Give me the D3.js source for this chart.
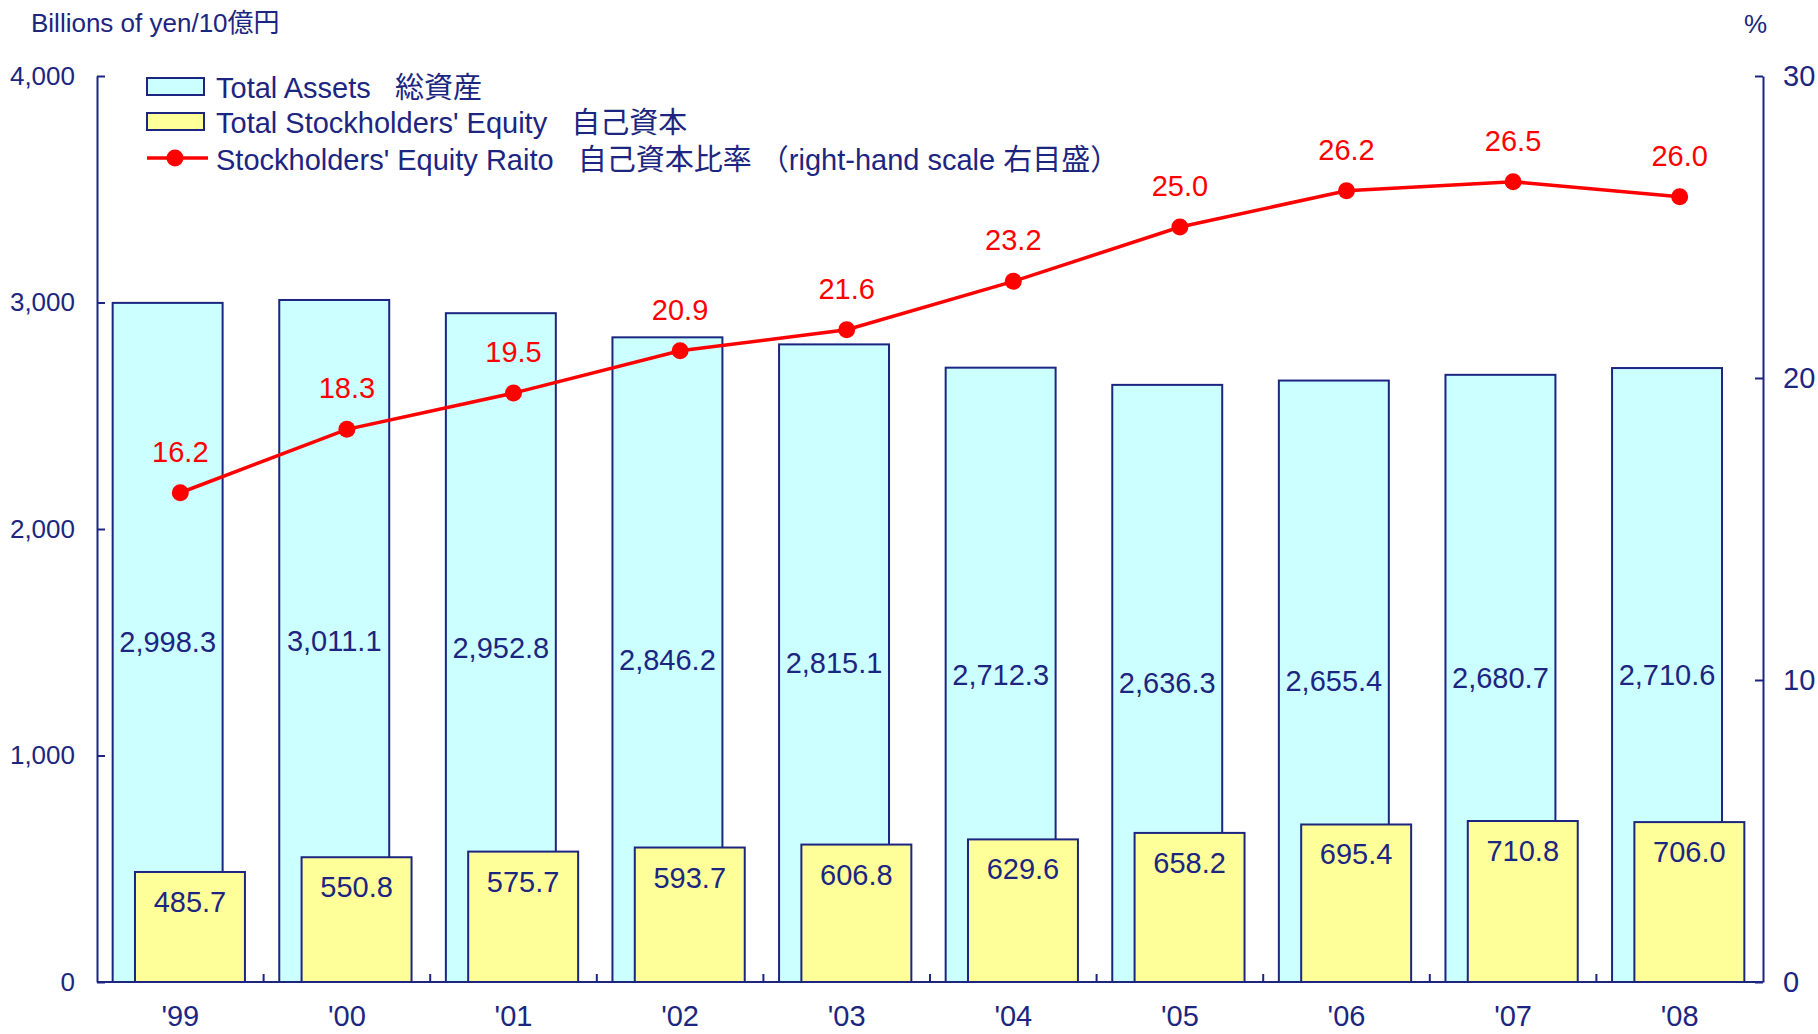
<!DOCTYPE html>
<html>
<head>
<meta charset="utf-8">
<script src="https://cdn.jsdelivr.net/npm/d3@7"></script>
<style>
  body { margin: 0; background: #fff; }
  svg text { font-family: "Liberation Sans", Arial, "Noto Sans CJK JP", sans-serif; }
</style>
</head>
<body>
<div id="chart"></div>
<script>
// data
var years = ["'99", "'00", "'01", "'02", "'03", "'04", "'05", "'06", "'07", "'08"];
var totalAssets = [2998.3, 3011.1, 2952.8, 2846.2, 2815.1, 2712.3, 2636.3, 2655.4, 2680.7, 2710.6];
var equity = [485.7, 550.8, 575.7, 593.7, 606.8, 629.6, 658.2, 695.4, 710.8, 706.0];
var equityRatio = [16.2, 18.3, 19.5, 20.9, 21.6, 23.2, 25.0, 26.2, 26.5, 26.0];
var leftTicks = [0, 1000, 2000, 3000, 4000];
var rightTicks = [0, 10, 20, 30];
var legendLabels = ["Total Assets   総資産", "Total Stockholders' Equity   自己資本", "Stockholders' Equity Raito   自己資本比率 （right-hand scale 右目盛）"];

var navy = "#1c2580", cyan = "#ccffff", yellow = "#ffff99", red = "#ff0000";

var svg = d3.select('#chart').append('svg')
  .attr('width', 1818)
  .attr('height', 1034);

var x = d3.scaleBand().domain(years).range([97, 1763]).padding(0);
var y = d3.scaleLinear().domain([0, 4000]).range([982, 76]);
var y2 = d3.scaleLinear().domain([0, 30]).range([982, 76]);
var bw = x.bandwidth();

// bars - total assets
svg.selectAll('rect.assets')
  .data(years)
  .enter().append('rect')
  .attr('class', 'assets')
  .attr('x', function (d) { return x(d) + bw * 0.094; })
  .attr('y', function (d, i) { return y(totalAssets[i]); })
  .attr('width', bw * 0.66)
  .attr('height', function (d, i) { return y(0) - y(totalAssets[i]); })
  .attr('fill', cyan)
  .attr('stroke', navy)
  .attr('stroke-width', 2);

// bars - equity
svg.selectAll('rect.equity')
  .data(years)
  .enter().append('rect')
  .attr('class', 'equity')
  .attr('x', function (d) { return x(d) + bw * 0.228; })
  .attr('y', function (d, i) { return y(equity[i]); })
  .attr('width', bw * 0.66)
  .attr('height', function (d, i) { return y(0) - y(equity[i]); })
  .attr('fill', yellow)
  .attr('stroke', navy)
  .attr('stroke-width', 2);

// labels on bars
svg.selectAll('text.assetsLbl')
  .data(years)
  .enter().append('text')
  .attr('x', function (d) { return x(d) + bw * 0.094 + bw * 0.33; })
  .attr('y', function (d, i) { return (y(totalAssets[i]) + y(0)) / 2 + 10; })
  .attr('text-anchor', 'middle')
  .attr('font-size', 29)
  .attr('fill', navy)
  .text(function (d, i) { return d3.format(',.1f')(totalAssets[i]); });

svg.selectAll('text.eqLbl')
  .data(years)
  .enter().append('text')
  .attr('x', function (d) { return x(d) + bw * 0.228 + bw * 0.33; })
  .attr('y', function (d, i) { return y(equity[i]) + 40; })
  .attr('text-anchor', 'middle')
  .attr('font-size', 29)
  .attr('fill', navy)
  .text(function (d, i) { return d3.format(',.1f')(equity[i]); });

// axes
var leftAxis = d3.axisLeft(y).tickValues(leftTicks).tickFormat(d3.format(','))
  .tickSizeInner(-8).tickSizeOuter(0).tickPadding(22);
var gl = svg.append('g').attr('transform', 'translate(97,0)').call(leftAxis);

var rightAxis = d3.axisRight(y2).tickValues(rightTicks)
  .tickSizeInner(-8).tickSizeOuter(0).tickPadding(20);
var gr = svg.append('g').attr('transform', 'translate(1763,0)').call(rightAxis);

[gl, gr].forEach(function (g) {
  g.selectAll('path, line').attr('stroke', navy).attr('stroke-width', 2);
  g.selectAll('text').attr('fill', navy).attr('font-size', 26)
    .attr('font-family', '"Liberation Sans", Arial, sans-serif');
});
gr.selectAll('text').attr('font-size', 29);

// bottom axis
svg.append('line')
  .attr('x1', 97).attr('x2', 1763)
  .attr('y1', y(0)).attr('y2', y(0))
  .attr('stroke', navy).attr('stroke-width', 2);

svg.selectAll('line.xtick')
  .data(years.slice(1))
  .enter().append('line')
  .attr('x1', function (d) { return x(d); })
  .attr('x2', function (d) { return x(d); })
  .attr('y1', y(0)).attr('y2', y(0) - 8)
  .attr('stroke', navy).attr('stroke-width', 2);

svg.selectAll('text.xlbl')
  .data(years)
  .enter().append('text')
  .attr('x', function (d) { return x(d) + bw / 2; })
  .attr('y', 1026)
  .attr('text-anchor', 'middle')
  .attr('font-size', 29)
  .attr('fill', navy)
  .text(function (d) { return d; });

// line for ratio
var line = d3.line()
  .x(function (d, i) { return x(years[i]) + bw / 2; })
  .y(function (d) { return y2(d); });

svg.append('path')
  .datum(equityRatio)
  .attr('d', line)
  .attr('fill', 'none')
  .attr('stroke', red)
  .attr('stroke-width', 3.5);

svg.selectAll('circle.pt')
  .data(equityRatio)
  .enter().append('circle')
  .attr('cx', function (d, i) { return x(years[i]) + bw / 2; })
  .attr('cy', function (d) { return y2(d); })
  .attr('r', 8.5)
  .attr('fill', red);

svg.selectAll('text.ratioLbl')
  .data(equityRatio)
  .enter().append('text')
  .attr('x', function (d, i) { return x(years[i]) + bw / 2; })
  .attr('y', function (d) { return y2(d) - 31; })
  .attr('text-anchor', 'middle')
  .attr('font-size', 29)
  .attr('fill', red)
  .text(function (d) { return d.toFixed(1); });

// axis titles
svg.append('text').attr('x', 31).attr('y', 32)
  .attr('font-size', 26).attr('fill', navy)
  .text('Billions of yen/10億円');
svg.append('text').attr('x', 1767).attr('y', 33)
  .attr('text-anchor', 'end')
  .attr('font-size', 26).attr('fill', navy)
  .text('%');

// legend
var legend = svg.append('g');
var rowY = [98, 133, 170];
legend.append('rect').attr('x', 147).attr('y', 78).attr('width', 57).attr('height', 17)
  .attr('fill', cyan).attr('stroke', navy).attr('stroke-width', 2);
legend.append('rect').attr('x', 147).attr('y', 113).attr('width', 57).attr('height', 17)
  .attr('fill', yellow).attr('stroke', navy).attr('stroke-width', 2);
legend.append('line').attr('x1', 147).attr('x2', 208).attr('y1', 158).attr('y2', 158)
  .attr('stroke', red).attr('stroke-width', 3.5);
legend.append('circle').attr('cx', 175).attr('cy', 158).attr('r', 8.5).attr('fill', red);

legend.selectAll('text')
  .data(legendLabels)
  .enter().append('text')
  .attr('x', 216)
  .attr('y', function (d, i) { return rowY[i]; })
  .attr('font-size', 29)
  .attr('fill', navy)
  .attr('xml:space', 'preserve')
  .style('white-space', 'pre')
  .text(function (d) { return d; });
</script>
</body>
</html>
